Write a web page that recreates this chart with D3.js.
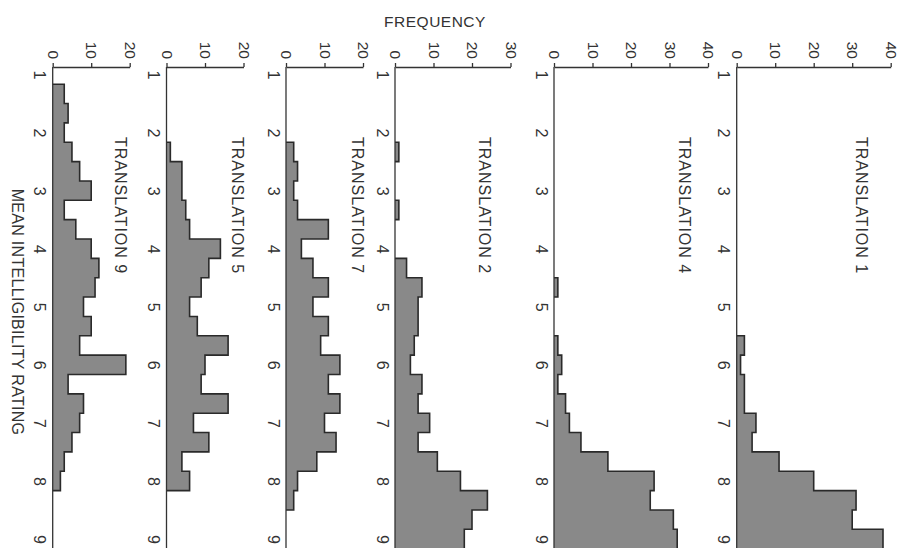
<!DOCTYPE html>
<html>
<head>
<meta charset="utf-8">
<script src="https://cdn.jsdelivr.net/npm/d3@7"></script>
<style>
  html, body { margin: 0; padding: 0; background: #ffffff; }
  svg { display: block; }
  text { font-family: "Liberation Sans", Arial, sans-serif; fill: #333; }
</style>
</head>
<body>
<svg id="chart" width="900" height="548"></svg>
<script>
// ---------- DATA ----------
// Bin centres of the mean intelligibility rating (bins one third wide)
const binCenters = [4/3, 5/3, 2, 7/3, 8/3, 3, 10/3, 11/3, 4, 13/3, 14/3, 5,
                    16/3, 17/3, 6, 19/3, 20/3, 7, 22/3, 23/3, 8, 25/3, 26/3, 9];
const ratingTicks = [1, 2, 3, 4, 5, 6, 7, 8, 9];

const panelNames = ["TRANSLATION 9", "TRANSLATION 5", "TRANSLATION 7",
                    "TRANSLATION 2", "TRANSLATION 4", "TRANSLATION 1"];
const panelFreqTicks = [[0, 10, 20], [0, 10, 20], [0, 10, 20],
                        [0, 10, 20, 30], [0, 10, 20, 30, 40], [0, 10, 20, 30, 40]];

const translation9 = [3,4,3,5,7,10,3,6,10,12,11,8,10,7,19,4,8,7,5,3,2,0,0,0];
const translation5 = [0,0,0,1,4,4,5,6,14,11,9,6,8,16,10,9,16,7,11,4,6,0,0,0];
const translation7 = [0,0,0,2,3,2,3,11,4,7,11,7,11,9,14,11,14,10,13,8,3,2,0,0];
const translation2 = [0,0,0,1,0,0,1,0,0,3,7,6,6,5,4,7,6,9,6,11,17,24,20,18];
const translation4 = [0,0,0,0,0,0,0,0,0,0,1,0,0,1,2,1,3,4,7,14,26,25,31,32];
const translation1 = [0,0,0,0,0,0,0,0,0,0,0,0,0,2,1,2,2,5,4,11,20,31,30,38];

const series = [translation9, translation5, translation7, translation2, translation4, translation1];

// ---------- LAYOUT (positions / styles) ----------
const panelX0 = [52.7, 166.5, 286, 395, 554, 736.7];   // x of zero-frequency baseline
const pxPerUnit = 3.85;
const labelOffsetUnits = [17.5, 18.5, 18.5, 23.3, 34, 32.5];
const axisY = 67;
const bottomY = 548;
const halfBin = 1/6;

const svg = d3.select("#chart");
const y = d3.scaleLinear().domain([1, 9]).range([74.5, 539]);
const lineColor = "#333";
const fillColor = "#898989";

series.forEach((vals, i) => {
  const maxF = d3.max(panelFreqTicks[i]);
  const x = d3.scaleLinear().domain([0, maxF]).range([panelX0[i], panelX0[i] + maxF * pxPerUnit]);
  const g = svg.append("g");

  // bars (filled), then outline per contiguous run
  const bins = binCenters.map((c, k) => ({c, v: vals[k]}));
  g.selectAll("rect.bar").data(bins.filter(d => d.v > 0)).join("rect")
    .attr("class", "bar")
    .attr("x", x(0))
    .attr("y", d => y(d.c - halfBin))
    .attr("width", d => x(d.v) - x(0))
    .attr("height", d => y(d.c + halfBin) - y(d.c - halfBin))
    .attr("fill", fillColor)
    .attr("shape-rendering", "crispEdges");

  const runs = [];
  let cur = null;
  bins.forEach(d => {
    if (d.v > 0) { if (!cur) { cur = []; runs.push(cur); } cur.push(d); }
    else cur = null;
  });
  runs.forEach(run => {
    const pts = [[x(0), y(run[0].c - halfBin)]];
    run.forEach(d => {
      pts.push([x(d.v), y(d.c - halfBin)]);
      pts.push([x(d.v), y(d.c + halfBin)]);
    });
    pts.push([x(0), y(run[run.length - 1].c + halfBin)]);
    g.append("path")
      .attr("d", d3.line()(pts))
      .attr("fill", "none")
      .attr("stroke", "#2a2a2a")
      .attr("stroke-width", 1.6)
      .attr("stroke-linejoin", "miter");
  });

  // frequency axis (top)
  const fa = g.append("g").attr("transform", `translate(0,${axisY})`)
    .call(d3.axisTop(x).tickValues(panelFreqTicks[i]).tickSize(4).tickSizeOuter(0).tickFormat(d3.format("d")));
  fa.select(".domain").attr("stroke", lineColor).attr("stroke-width", 1.3);
  fa.selectAll(".tick line").attr("stroke", lineColor).attr("stroke-width", 1.3);
  fa.selectAll(".tick text")
    .attr("y", 0).attr("dy", null)
    .attr("transform", "translate(0,-8) rotate(90)")
    .attr("text-anchor", "end")
    .attr("dominant-baseline", "central")
    .style("font-size", "15.5px")
    .style("font-family", "Liberation Sans, Arial, sans-serif")
    .attr("fill", "#333");

  // baseline (rating axis)
  g.append("line")
    .attr("x1", x(0)).attr("x2", x(0))
    .attr("y1", axisY).attr("y2", bottomY)
    .attr("stroke", lineColor).attr("stroke-width", 1.3);

  const ra = g.append("g").attr("transform", `translate(${x(0)},0)`)
    .call(d3.axisLeft(y).tickValues(ratingTicks).tickSize(0).tickFormat(d3.format("d")));
  ra.select(".domain").remove();
  ra.selectAll(".tick line").remove();
  ra.selectAll(".tick text")
    .attr("x", 0).attr("dy", null)
    .attr("transform", "translate(-13,0) rotate(90)")
    .attr("text-anchor", "middle")
    .attr("dominant-baseline", "central")
    .style("font-size", "16px")
    .style("font-family", "Liberation Sans, Arial, sans-serif")
    .attr("fill", "#333");

  // panel title
  g.append("text")
    .attr("transform", `translate(${x(labelOffsetUnits[i])},137) rotate(90)`)
    .attr("text-anchor", "start")
    .attr("dominant-baseline", "central")
    .style("font-size", "16px")
    .style("letter-spacing", "1px")
    .text(panelNames[i]);
});

// axis titles
svg.append("text")
  .attr("x", 435).attr("y", 27)
  .attr("text-anchor", "middle")
  .style("font-size", "15.5px")
  .style("letter-spacing", "0.5px")
  .text("FREQUENCY");

svg.append("text")
  .attr("transform", "translate(17,312) rotate(90)")
  .attr("text-anchor", "middle")
  .attr("dominant-baseline", "central")
  .style("font-size", "16px")
  .style("letter-spacing", "0.3px")
  .text("MEAN INTELLIGIBILITY RATING");
</script>
</body>
</html>
